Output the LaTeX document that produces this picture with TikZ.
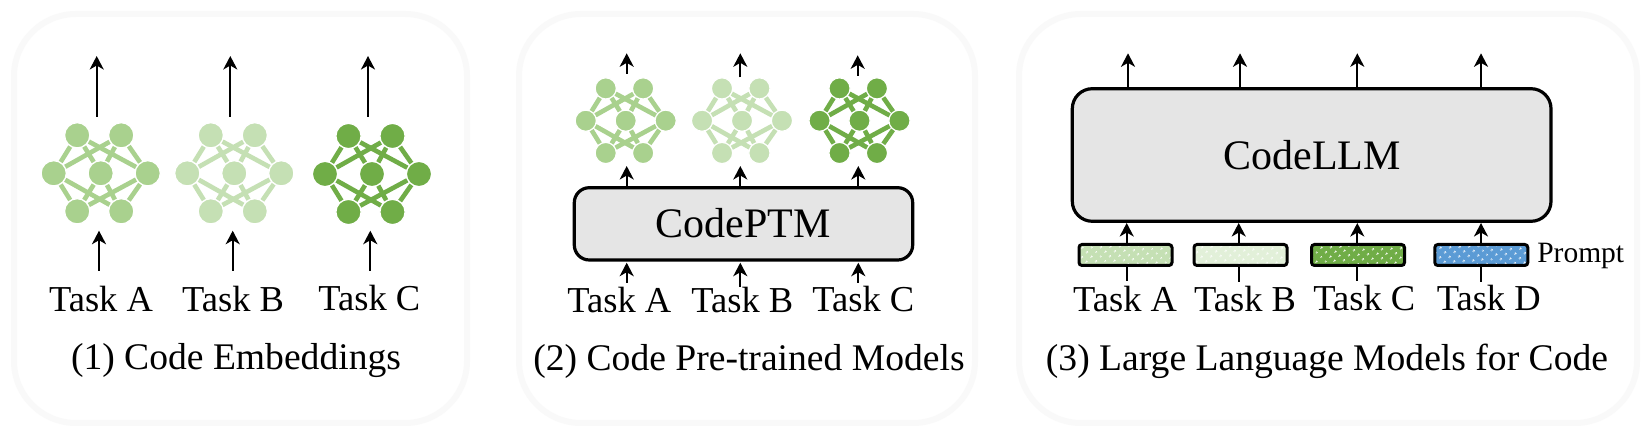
\documentclass[tikz,border=0pt]{standalone}
\usepackage{fontspec}
\setmainfont{Liberation Serif}
\usetikzlibrary{arrows.meta,patterns.meta}
\definecolor{netA}{HTML}{A9D18E}
\definecolor{netB}{HTML}{C5E0B4}
\definecolor{netC}{HTML}{70AD47}
\definecolor{promptA}{HTML}{C5E0B4}
\definecolor{promptB}{HTML}{E2F0D9}
\definecolor{promptD}{HTML}{5B9BD5}
\definecolor{boxgray}{HTML}{E5E5E5}
\definecolor{panelgray}{HTML}{F9F9F9}
\tikzset{
  panel/.style={draw=panelgray,line width=6pt,rounded corners=62pt},
  netnode/.style={circle,fill=#1,draw=white,inner sep=0pt},
  bignode/.style={minimum size=25.3pt,line width=1.3pt},
  smallnode/.style={minimum size=21.2pt,line width=1.2pt},
  netedge/.style={draw=#1,line width=4.6pt},
  upflow/.style={-{Stealth[length=13.5pt,width=14pt,inset=4pt]},line width=2.3pt},
  modelbox/.style={draw,fill=boxgray,line width=3.2pt,inner sep=0pt,text depth=0pt},
  promptbox/.style={line width=3pt,rounded corners=3pt,inner sep=0pt,
    minimum width=93pt,minimum height=21pt,fill=#1,
    postaction={pattern={Dots[radius=1.2pt,distance=6.5pt,angle=45]},pattern color=white},
    postaction={draw=black}},
  tasklabel/.style={anchor=base,inner sep=0pt,font=\fontsize{36.5}{40}\selectfont},
  caption/.style={anchor=base,inner sep=0pt,font=\fontsize{37.6}{42}\selectfont},
  modellabel/.style={anchor=base,inner sep=0pt,font=\fontsize{42}{46}\selectfont},
  promptlabel/.style={anchor=base,inner sep=0pt,font=\fontsize{29.5}{34}\selectfont}
}
% #1 name, #2 x, #3 y, #4 scale, #5 node size style, #6 colour
\newcommand{\codenet}[6]{
  \begin{scope}[shift={(#2,#3)},scale=#4]
  \draw (-23.5,-38) node[netnode=#6,#5](#1a){}  (20.5,-38) node[netnode=#6,#5](#1b){}
        (-47,0) node[netnode=#6,#5](#1c){}  (0,0) node[netnode=#6,#5](#1d){}  (47,0) node[netnode=#6,#5](#1e){}
        (-23.5,38) node[netnode=#6,#5](#1f){}  (20.5,38) node[netnode=#6,#5](#1g){};
  \path[netedge=#6]
    (#1c) edge (#1a)
    (#1c) edge (#1b)
    (#1c) edge (#1f)
    (#1c) edge (#1g)
    (#1e) edge (#1a)
    (#1e) edge (#1b)
    (#1e) edge (#1f)
    (#1e) edge (#1g)
    (#1d) edge (#1a)
    (#1d) edge (#1b)
    (#1d) edge (#1f)
    (#1d) edge (#1g);
  \end{scope}
}
\begin{document}
\begin{tikzpicture}[x=1pt,y=-1pt]
\useasboundingbox (0,0) rectangle (1652,435);
\fill[white] (0,0) rectangle (1652,435);

% panels
\draw[panel] (14,14) rectangle (467,423);
\draw[panel] (519,14) rectangle (975,423);
\draw[panel] (1019,14) rectangle (1637,423);

% (1) embeddings
\codenet{ea}{100.7}{173.3}{1}{bignode}{netA}
\codenet{eb}{234.3}{173.3}{1}{bignode}{netB}
\codenet{ec}{372}{174}{1}{bignode}{netC}

\coordinate (eaout0) at (96.7,116.7);   \coordinate (eaout1) at (96.7,56);
\coordinate (ebout0) at (230.3,116.7);  \coordinate (ebout1) at (230.3,56);
\coordinate (ecout0) at (368,116.7);    \coordinate (ecout1) at (368,56);
\coordinate (eain0) at (99,270.7);      \coordinate (eain1) at (99,230.7);
\coordinate (ebin0) at (232.7,270.7);   \coordinate (ebin1) at (232.7,230.7);
\coordinate (ecin0) at (370.3,270.7);   \coordinate (ecin1) at (370.3,230.7);
\draw[upflow] (eaout0) -- (eaout1);
\draw[upflow] (ebout0) -- (ebout1);
\draw[upflow] (ecout0) -- (ecout1);
\draw[upflow] (eain0) -- (eain1);
\draw[upflow] (ebin0) -- (ebin1);
\draw[upflow] (ecin0) -- (ecin1);

\node[tasklabel] (etaskA) at (101,312) {Task A};
\node[tasklabel] (etaskB) at (233,312) {Task B};
\node[tasklabel] (etaskC) at (369.3,311) {Task C};
\node[caption] (ecaption) at (236,370) {(1) Code Embeddings};

% (2) pre-trained
\codenet{pa}{625.7}{120.7}{0.85}{smallnode}{netA}
\codenet{pb}{742}{120.7}{0.85}{smallnode}{netB}
\codenet{pc}{859.5}{120.7}{0.85}{smallnode}{netC}

\draw[modelbox,rounded corners=15pt] (574.3,187.7) rectangle (912.7,260);
\node[modellabel] (ptm) at (743.3,237.7) {CodePTM};

\coordinate (paout0) at (626.7,74);     \coordinate (paout1) at (626.7,53.3);
\coordinate (pbout0) at (740.3,77.3);   \coordinate (pbout1) at (740.3,53.3);
\coordinate (pcout0) at (857.7,76);     \coordinate (pcout1) at (857.7,55.3);
\coordinate (pamid0) at (626.7,187.7);  \coordinate (pamid1) at (626.7,166);
\coordinate (pbmid0) at (740.3,187.7);  \coordinate (pbmid1) at (740.3,166);
\coordinate (pcmid0) at (858.3,187.7);  \coordinate (pcmid1) at (858.3,166);
\coordinate (pain0) at (626.7,283);     \coordinate (pain1) at (626.7,262.7);
\coordinate (pbin0) at (740.3,286.7);   \coordinate (pbin1) at (740.3,262.7);
\coordinate (pcin0) at (858.3,283);     \coordinate (pcin1) at (858.3,262.7);
\draw[upflow] (paout0) -- (paout1);
\draw[upflow] (pbout0) -- (pbout1);
\draw[upflow] (pcout0) -- (pcout1);
\draw[upflow] (pamid0) -- (pamid1);
\draw[upflow] (pbmid0) -- (pbmid1);
\draw[upflow] (pcmid0) -- (pcmid1);
\draw[upflow] (pain0) -- (pain1);
\draw[upflow] (pbin0) -- (pbin1);
\draw[upflow] (pcin0) -- (pcin1);

\node[tasklabel] (ptaskA) at (619.3,312.5) {Task A};
\node[tasklabel] (ptaskB) at (742.3,312.5) {Task B};
\node[tasklabel] (ptaskC) at (863.3,311.5) {Task C};
\node[caption] (pcaption) at (749,371) {(2) Code Pre-trained Models};

% (3) large language models
\draw[modelbox,rounded corners=20pt] (1072.3,88.7) rectangle (1551,221.3);
\node[modellabel] (llm) at (1312,170) {CodeLLM};

\node[promptbox=promptA] (promptA) at (1125.5,255) {};
\node[promptbox=promptB] (promptB) at (1240.5,255) {};
\node[promptbox=netC] (promptC) at (1358,255) {};
\node[promptbox=promptD] (promptD) at (1481.3,255) {};
\node[promptlabel] (promptname) at (1580.7,262.7) {Prompt};

\coordinate (lout0) at (1128,88.7);    \coordinate (lout1) at (1128,53.3);
\coordinate (mout0) at (1240,88.7);    \coordinate (mout1) at (1240,53.3);
\coordinate (nout0) at (1357.3,88.7);  \coordinate (nout1) at (1357.3,53.3);
\coordinate (oout0) at (1481,88.7);    \coordinate (oout1) at (1481,53.3);
\coordinate (lin0) at (1126.7,243.3);  \coordinate (lin1) at (1126.7,223);
\coordinate (min0) at (1238.7,243.3);  \coordinate (min1) at (1238.7,223);
\coordinate (nin0) at (1357.3,243.3);  \coordinate (nin1) at (1357.3,223);
\coordinate (oin0) at (1481,243.3);    \coordinate (oin1) at (1481,223);
\coordinate (ltask) at (1126.7,281);   \coordinate (lbox) at (1126.7,266.7);
\coordinate (mtask) at (1238.7,282);   \coordinate (mbox) at (1238.7,266.7);
\coordinate (ntask) at (1357.3,281);   \coordinate (nbox) at (1357.3,266.7);
\coordinate (otask) at (1481,282);     \coordinate (obox) at (1481,266.7);
\draw[upflow] (lout0) -- (lout1);
\draw[upflow] (mout0) -- (mout1);
\draw[upflow] (nout0) -- (nout1);
\draw[upflow] (oout0) -- (oout1);
\draw[upflow] (lin0) -- (lin1);
\draw[upflow] (min0) -- (min1);
\draw[upflow] (nin0) -- (nin1);
\draw[upflow] (oin0) -- (oin1);
\draw[line width=2.3pt] (ltask) -- (lbox);
\draw[line width=2.3pt] (mtask) -- (mbox);
\draw[line width=2.3pt] (ntask) -- (nbox);
\draw[line width=2.3pt] (otask) -- (obox);

\node[tasklabel] (ltaskA) at (1125,311.7) {Task A};
\node[tasklabel] (ltaskB) at (1245,311.7) {Task B};
\node[tasklabel] (ltaskC) at (1364.3,311) {Task C};
\node[tasklabel] (ltaskD) at (1488.7,311) {Task D};
\node[caption] (lcaption) at (1327,371) {(3) Large Language Models for Code};
\end{tikzpicture}
\end{document}
